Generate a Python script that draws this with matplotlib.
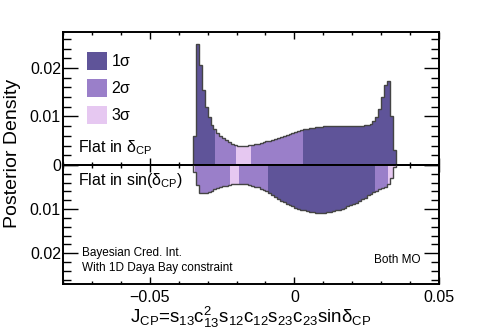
import numpy as np
import matplotlib
matplotlib.use("Agg")
import matplotlib.pyplot as plt
from matplotlib.ticker import MultipleLocator
from matplotlib.patches import Rectangle

plt.rcParams['font.family'] = ['Liberation Sans', 'DejaVu Sans']
plt.rcParams['mathtext.default'] = 'regular'

# ---------------- data ----------------
bin_lo, bin_hi, bin_w = -0.035, 0.035, 0.001

# Flat in delta_CP (units of 1e-3)
top_density = [
    6.0, 25.0, 20.5, 15.5, 12.0, 9.8, 8.3, 7.4, 6.6, 6.0,
    5.5, 5.1, 4.7, 4.4, 4.2, 4.0, 4.0, 4.0, 4.0, 4.1,
    4.2, 4.3, 4.4, 4.6, 4.8, 4.9, 5.0, 5.2, 5.4, 5.6,
    5.8, 6.0, 6.2, 6.4, 6.6, 6.8, 7.0, 7.2, 7.4, 7.5,
    7.6, 7.7, 7.8, 7.9, 7.9, 8.0, 8.1, 8.1, 8.1, 8.1,
    8.1, 8.1, 8.1, 8.1, 8.1, 8.1, 8.1, 8.1, 8.1, 8.2,
    8.3, 8.5, 9.0, 9.8, 11.5, 14.0, 16.5, 17.4, 10.0, 3.0,
]
# Flat in sin(delta_CP) (units of 1e-3, drawn downward)
bottom_density = [
    1.5, 4.5, 6.4, 6.4, 6.3, 6.1, 5.8, 5.5, 5.2, 5.0,
    4.8, 4.7, 4.5, 4.4, 4.3, 4.3, 4.3, 4.3, 4.4, 4.5,
    4.7, 4.9, 5.1, 5.4, 5.7, 6.0, 6.4, 6.8, 7.2, 7.7,
    8.1, 8.5, 8.8, 9.1, 9.4, 9.7, 9.9, 10.1, 10.3, 10.5,
    10.6, 10.7, 10.8, 10.8, 10.8, 10.8, 10.7, 10.6, 10.5, 10.3,
    10.2, 9.9, 9.7, 9.4, 9.1, 8.9, 8.6, 8.2, 7.8, 7.4,
    6.9, 6.5, 6.1, 5.8, 5.5, 5.3, 4.9, 4.4, 3.0, 0.5,
]
# credible-interval bands: boundaries and level (1,2,3 sigma) of each segment
top_band_edges = [-0.0276, -0.0201, -0.0149, 0.0029]
top_band_levels = [1, 2, 3, 2, 1]
bottom_band_edges = [-0.0342, -0.0224, -0.0190, -0.0090, 0.0278, 0.0322]
bottom_band_levels = [3, 2, 3, 2, 1, 2, 3]

legend_labels = [r'1$\sigma$', r'2$\sigma$', r'3$\sigma$']
band_colors = {1: '#5f5499', 2: '#9a7fc9', 3: '#e6c8f1'}
line_col = '#444444'

# ---------------- figure ----------------
W, H = 488, 331
fig = plt.figure(figsize=(W / 100, H / 100), dpi=100)
L, R, T, Z, B = 63, 439, 32, 165, 284
ax1 = fig.add_axes([L / W, 1 - Z / H, (R - L) / W, (Z - T) / H])
ax2 = fig.add_axes([L / W, 1 - B / H, (R - L) / W, (B - Z) / H])

edges = np.round(np.arange(bin_lo, bin_hi + bin_w / 2, bin_w), 6)
top_v = np.array(top_density) * 1e-3
bot_v = np.array(bottom_density) * 1e-3


def draw_bands(ax, vals, bedges, levels):
    bounds = [edges[0]] + list(bedges) + [edges[-1]]
    for a, b, lev in zip(bounds[:-1], bounds[1:], levels):
        xs = np.concatenate([[a], edges[(edges > a) & (edges < b)], [b]])
        idx = np.clip(np.searchsorted(edges, xs[:-1], side='right') - 1, 0, len(vals) - 1)
        hs = vals[idx]
        ax.fill_between(xs, np.append(hs, hs[-1]), 0, step='post',
                        color=band_colors[lev], lw=0, zorder=2)
    ax.stairs(vals, edges, baseline=0, color=line_col, lw=1.0, zorder=3)


draw_bands(ax1, top_v, top_band_edges, top_band_levels)
draw_bands(ax2, bot_v, bottom_band_edges, bottom_band_levels)

ax1.set_xlim(-0.08, 0.05)
ax2.set_xlim(-0.08, 0.05)
ax1.set_ylim(0, 0.0274)
ax2.set_ylim(0.0270, 0)

for ax in (ax1, ax2):
    ax.xaxis.set_major_locator(MultipleLocator(0.05))
    ax.xaxis.set_minor_locator(MultipleLocator(0.01))
    ax.yaxis.set_major_locator(MultipleLocator(0.01))
    ax.yaxis.set_minor_locator(MultipleLocator(0.002))
    ax.tick_params(which='both', direction='in', top=True, right=True,
                   bottom=True, left=True, width=1.0, colors='black')
    ax.tick_params(axis='y', which='major', length=10.5, labelsize=11.5, pad=1.5)
    ax.tick_params(axis='y', which='minor', length=5.5)
    ax.tick_params(axis='x', which='major', length=5)
    ax.tick_params(axis='x', which='minor', length=2.5)
    for s in ax.spines.values():
        s.set_linewidth(1.4)
    ax.set_facecolor('none')

ax1.tick_params(axis='x', labelbottom=False)
ax2.tick_params(axis='x', labelsize=11.5, pad=4)
ax1.yaxis.set_major_formatter(plt.FuncFormatter(lambda v, p: '0' if abs(v) < 1e-9 else f'{v:.2f}'))
ax2.yaxis.set_major_formatter(plt.FuncFormatter(lambda v, p: '' if abs(v) < 1e-9 else f'{v:.2f}'))
ax2.xaxis.set_major_formatter(plt.FuncFormatter(lambda v, p: '0' if abs(v) < 1e-9 else f'{v:.2f}'.replace('-', '\u2212')))

# legend boxes
box_y = [52, 79, 106]
for (y0, lab, lev) in zip(box_y, legend_labels, [1, 2, 3]):
    fig.patches.append(Rectangle((87 / W, 1 - (y0 + 18) / H), 20 / W, 18 / H,
                                 transform=fig.transFigure, color=band_colors[lev], lw=0))
    fig.text(111 / W, 1 - (y0 + 9) / H, lab, fontsize=11.5, va='center', ha='left')

fig.text(78 / W, 1 - 152 / H, r'Flat in $\delta_{CP}$', fontsize=11.5, va='baseline')
fig.text(78 / W, 1 - 185 / H, r'Flat in sin($\delta_{CP}$)', fontsize=11.5, va='baseline')
fig.text(82 / W, 1 - 253 / H, 'Bayesian Cred. Int.', fontsize=8.5, va='center')
fig.text(82 / W, 1 - 268 / H, 'With 1D Daya Bay constraint', fontsize=8.5, va='center')
fig.text(420 / W, 1 - 260 / H, 'Both MO', fontsize=8.5, va='center', ha='right')

fig.text(13 / W, 1 - 153.5 / H, 'Posterior Density', rotation=90, fontsize=14,
         va='center', ha='center')
fig.text(251 / W, 1 - 322.5 / H,
         r'J$_{CP}$=s$_{13}$c$_{13}^{2}$s$_{12}$c$_{12}$s$_{23}$c$_{23}$sin$\delta_{CP}$',
         fontsize=13.5, va='baseline', ha='center')

fig.savefig('out.png', dpi=100)
